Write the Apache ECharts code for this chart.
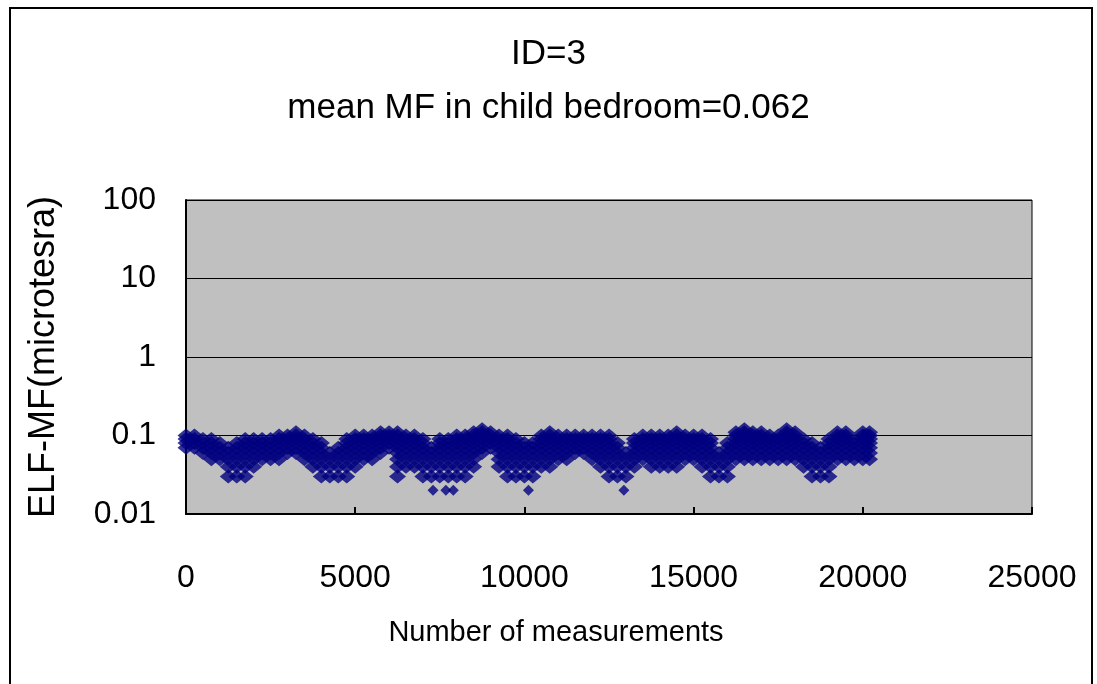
<!DOCTYPE html>
<html>
<head>
<meta charset="utf-8">
<script src="https://cdn.jsdelivr.net/npm/echarts@6/dist/echarts.min.js"></script>
<style>
html,body{margin:0;padding:0;background:#fff;}
#c{width:1097px;height:684px;}
</style>
</head>
<body>
<div id="c"></div>
<script>
// Measurement index of each sampled reading (every 250 measurements)
const sampleX = [0,250,500,750,1000,1250,1500,1750,2000,2250,2500,2750,3000,3250,3500,3750,4000,4250,4500,4750,5000,5250,5500,5750,6000,6250,6500,6750,7000,7250,7500,7750,8000,8250,8500,8750,9000,9250,9500,9750,10000,10250,10500,10750,11000,11250,11500,11750,12000,12250,12500,12750,13000,13250,13500,13750,14000,14250,14500,14750,15000,15250,15500,15750,16000,16250,16500,16750,17000,17250,17500,17750,18000,18250,18500,18750,19000,19250,19500,19750,20000,20200];
// Highest reading (microtesla) seen around each sample
const sampleHigh = [0.10,0.10,0.09,0.09,0.08,0.07,0.08,0.09,0.09,0.09,0.09,0.10,0.10,0.11,0.10,0.09,0.08,0.06,0.07,0.09,0.10,0.10,0.10,0.11,0.11,0.11,0.10,0.10,0.09,0.07,0.09,0.09,0.10,0.10,0.11,0.12,0.11,0.10,0.10,0.09,0.08,0.08,0.10,0.11,0.10,0.10,0.10,0.10,0.10,0.10,0.10,0.08,0.06,0.09,0.10,0.10,0.10,0.10,0.11,0.10,0.10,0.10,0.09,0.06,0.08,0.11,0.12,0.11,0.11,0.10,0.10,0.12,0.11,0.09,0.08,0.07,0.09,0.11,0.11,0.09,0.11,0.11];
// Lowest reading (microtesla) seen around each sample
const sampleLow = [0.07,0.07,0.06,0.05,0.05,0.03,0.03,0.03,0.04,0.05,0.05,0.05,0.06,0.06,0.05,0.04,0.03,0.03,0.03,0.03,0.04,0.05,0.05,0.06,0.07,0.03,0.04,0.04,0.03,0.03,0.03,0.03,0.03,0.03,0.04,0.06,0.07,0.04,0.03,0.03,0.03,0.03,0.04,0.04,0.05,0.05,0.06,0.06,0.05,0.04,0.03,0.03,0.03,0.04,0.05,0.04,0.04,0.04,0.04,0.05,0.05,0.04,0.03,0.03,0.03,0.05,0.05,0.05,0.05,0.05,0.05,0.05,0.05,0.04,0.03,0.03,0.03,0.05,0.05,0.05,0.05,0.05];
// Isolated low outliers
const outlierX = [7300,7680,7900,10120,12940];
const outlierY = [0.02,0.02,0.02,0.02,0.02];

const xTicks = [0,5000,10000,15000,20000,25000];
const yTicks = [0.01,0.1,1,10,100];
const titleLine1 = 'ID=3';
const titleLine2 = 'mean MF in child bedroom=0.062';
const xName = 'Number of measurements';
const yName = 'ELF-MF(microtesra)';

// Readings are recorded at 0.01 µT resolution: each sample shows the levels from low to high
const points = [];
for (let i = 0; i < sampleX.length; i++) {
  const lo = Math.round(sampleLow[i] * 100), hi = Math.round(sampleHigh[i] * 100);
  for (let k = lo; k <= hi; k++) points.push([sampleX[i], k / 100]);
}
const outliers = outlierX.map((x, i) => [x, outlierY[i]]);

const FONT = '"Liberation Sans", Arial, sans-serif';
const chart = echarts.init(document.getElementById('c'), null, {renderer: 'canvas'});
chart.setOption({
  backgroundColor: '#ffffff',
  animation: false,
  title: [
    {text: titleLine1, left: 'center', top: 32, textStyle: {fontFamily: FONT, fontSize: 35, fontWeight: 'normal', color: '#000'}},
    {text: titleLine2, left: 'center', top: 86, textStyle: {fontFamily: FONT, fontSize: 35, fontWeight: 'normal', color: '#000'}}
  ],
  graphic: [
    {type: 'rect', shape: {x: 10, y: 8, width: 1082, height: 700}, style: {fill: 'none', stroke: '#000', lineWidth: 2}, silent: true, z: 100}
  ],
  grid: {left: 186, right: 65, top: 200, bottom: 170, show: true, backgroundColor: '#c0c0c0', borderColor: '#000', borderWidth: 1},
  xAxis: {
    type: 'value', min: 0, max: 25000, interval: 5000,
    name: xName, nameLocation: 'middle', nameGap: 104,
    nameTextStyle: {fontFamily: FONT, fontSize: 29, color: '#000', padding: [0, 106, 0, 0]},
    axisLine: {show: true, lineStyle: {color: '#000', width: 2}},
    axisTick: {show: true, inside: true, length: 7, lineStyle: {color: '#000', width: 2}},
    axisLabel: {fontFamily: FONT, fontSize: 32, color: '#000', margin: 48, formatter: v => String(v)},
    splitLine: {show: false}
  },
  yAxis: {
    type: 'log', logBase: 10, min: 0.01, max: 100,
    name: yName, nameLocation: 'middle', nameGap: 124, nameRotate: 90,
    nameTextStyle: {fontFamily: FONT, fontSize: 36, color: '#000'},
    axisLine: {show: true, lineStyle: {color: '#000', width: 2}},
    axisTick: {show: false},
    axisLabel: {fontFamily: FONT, fontSize: 32, color: '#000', margin: 30,
      formatter: v => { const m = yTicks.find(t => Math.abs(t - v) / t < 1e-6); return m !== undefined ? String(m) : ''; }},
    splitLine: {show: true, lineStyle: {color: '#000', width: 1}}
  },
  series: [
    {type: 'scatter', data: points, symbol: 'diamond', symbolSize: [17, 14], itemStyle: {color: '#000080'}, silent: true},
    {type: 'scatter', data: outliers, symbol: 'diamond', symbolSize: 11, itemStyle: {color: '#000080'}, silent: true}
  ]
});
</script>
</body>
</html>
